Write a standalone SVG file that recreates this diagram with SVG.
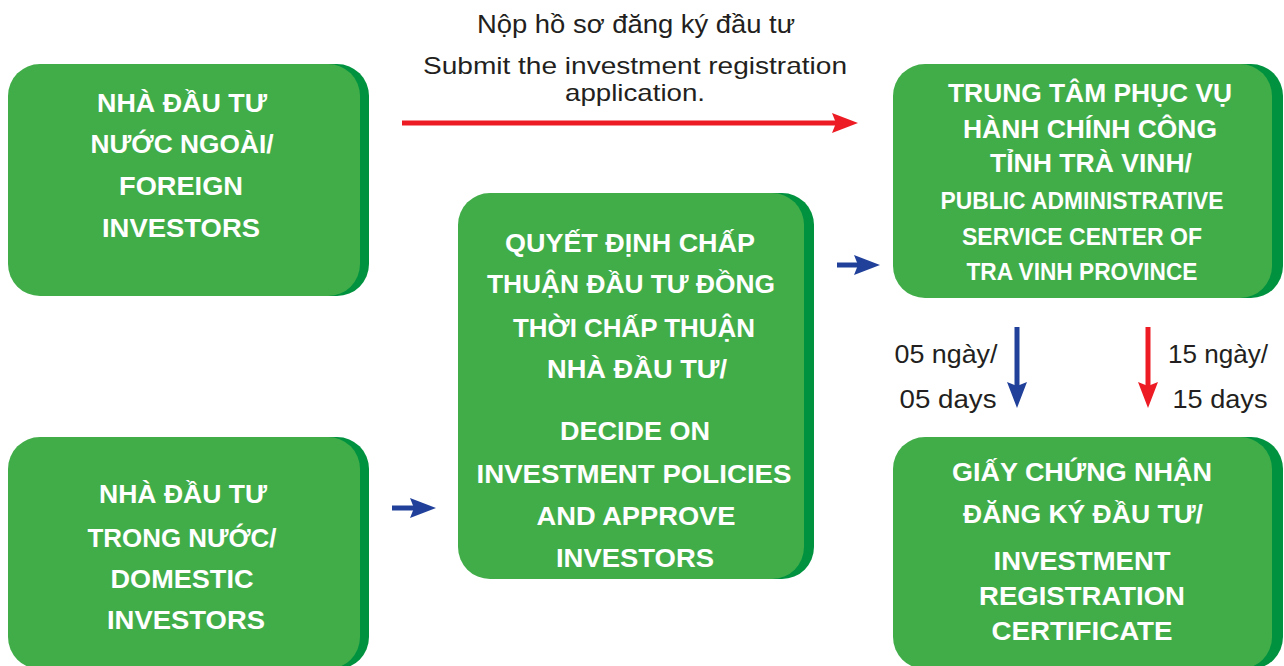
<svg xmlns="http://www.w3.org/2000/svg" width="1284" height="666" viewBox="0 0 1284 666">
<defs>
<style>
.bg{fill:#ffffff}
.sh{fill:#00923F}
.box{fill:#41AD49}
.t{font-family:"Liberation Sans",Arial,sans-serif;font-weight:bold;font-size:26px;fill:#ffffff;text-anchor:middle}
.t2{font-family:"Liberation Sans",Arial,sans-serif;font-weight:bold;font-size:24px;fill:#ffffff;text-anchor:middle}
.lab{font-family:"Liberation Sans",Arial,sans-serif;font-size:25px;fill:#231F20;text-anchor:middle}
.lab2{font-family:"Liberation Sans",Arial,sans-serif;font-size:24px;fill:#231F20;text-anchor:middle}
.red{stroke:#ED1C24;stroke-width:5;fill:none}
.blue{stroke:#21409A;stroke-width:5;fill:none}
</style>
<marker id="hr" markerUnits="userSpaceOnUse" markerWidth="26" markerHeight="20" refX="4" refY="10" orient="auto" viewBox="0 0 26 20">
<path d="M0,0 L26,10 L0,20 L4,10 z" fill="#ED1C24"/>
</marker>
<marker id="hb" markerUnits="userSpaceOnUse" markerWidth="26" markerHeight="20" refX="4" refY="10" orient="auto" viewBox="0 0 26 20">
<path d="M0,0 L26,10 L0,20 L4,10 z" fill="#21409A"/>
</marker>
</defs>
<rect class="bg" x="0" y="0" width="1284" height="666"/>

<g id="foreign">
<rect class="sh" x="18" y="64" width="351" height="232" rx="32"/>
<rect class="box" x="8" y="64" width="352" height="232" rx="32"/>
<text class="t" x="182" y="112" textLength="170" lengthAdjust="spacingAndGlyphs">NHÀ ĐẦU TƯ</text>
<text class="t" x="182" y="153" textLength="183" lengthAdjust="spacingAndGlyphs">NƯỚC NGOÀI/</text>
<text class="t" x="181" y="195" textLength="124" lengthAdjust="spacingAndGlyphs">FOREIGN</text>
<text class="t" x="181" y="237" textLength="158" lengthAdjust="spacingAndGlyphs">INVESTORS</text>
</g>

<g id="domestic">
<rect class="sh" x="18" y="437" width="351" height="232" rx="32"/>
<rect class="box" x="8" y="437" width="352" height="232" rx="32"/>
<text class="t" x="183" y="503" textLength="168" lengthAdjust="spacingAndGlyphs">NHÀ ĐẦU TƯ</text>
<text class="t" x="182" y="547" textLength="189" lengthAdjust="spacingAndGlyphs">TRONG NƯỚC/</text>
<text class="t" x="182" y="588" textLength="143" lengthAdjust="spacingAndGlyphs">DOMESTIC</text>
<text class="t" x="186" y="629" textLength="158" lengthAdjust="spacingAndGlyphs">INVESTORS</text>
</g>

<g id="decision">
<rect class="sh" x="468" y="193" width="346" height="386" rx="32"/>
<rect class="box" x="458" y="193" width="346" height="386" rx="32"/>
<text class="t" x="630" y="252" textLength="250" lengthAdjust="spacingAndGlyphs">QUYẾT ĐỊNH CHẤP</text>
<text class="t" x="631" y="293" textLength="288" lengthAdjust="spacingAndGlyphs">THUẬN ĐẦU TƯ ĐỒNG</text>
<text class="t" x="634" y="337" textLength="242" lengthAdjust="spacingAndGlyphs">THỜI CHẤP THUẬN</text>
<text class="t" x="637" y="378" textLength="180" lengthAdjust="spacingAndGlyphs">NHÀ ĐẦU TƯ/</text>
<text class="t" x="635" y="440" textLength="150" lengthAdjust="spacingAndGlyphs">DECIDE ON</text>
<text class="t" x="634" y="483" textLength="315" lengthAdjust="spacingAndGlyphs">INVESTMENT POLICIES</text>
<text class="t" x="636" y="525" textLength="199" lengthAdjust="spacingAndGlyphs">AND APPROVE</text>
<text class="t" x="635" y="567" textLength="158" lengthAdjust="spacingAndGlyphs">INVESTORS</text>
</g>

<g id="center">
<rect class="sh" x="903" y="64" width="380" height="234" rx="32"/>
<rect class="box" x="893" y="64" width="379" height="234" rx="32"/>
<text class="t" x="1090" y="102" textLength="284" lengthAdjust="spacingAndGlyphs">TRUNG TÂM PHỤC VỤ</text>
<text class="t" x="1090" y="138" textLength="254" lengthAdjust="spacingAndGlyphs">HÀNH CHÍNH CÔNG</text>
<text class="t" x="1091" y="172" textLength="202" lengthAdjust="spacingAndGlyphs">TỈNH TRÀ VINH/</text>
<text class="t2" x="1082" y="209" textLength="283" lengthAdjust="spacingAndGlyphs">PUBLIC ADMINISTRATIVE</text>
<text class="t2" x="1082" y="245" textLength="240" lengthAdjust="spacingAndGlyphs">SERVICE CENTER OF</text>
<text class="t2" x="1082" y="280" textLength="231" lengthAdjust="spacingAndGlyphs">TRA VINH PROVINCE</text>
</g>

<g id="certificate">
<rect class="sh" x="903" y="437" width="380" height="232" rx="32"/>
<rect class="box" x="893" y="437" width="379" height="232" rx="32"/>
<text class="t" x="1082" y="481" textLength="260" lengthAdjust="spacingAndGlyphs">GIẤY CHỨNG NHẬN</text>
<text class="t" x="1083" y="523" textLength="240" lengthAdjust="spacingAndGlyphs">ĐĂNG KÝ ĐẦU TƯ/</text>
<text class="t" x="1082" y="570" textLength="177" lengthAdjust="spacingAndGlyphs">INVESTMENT</text>
<text class="t" x="1082" y="605" textLength="206" lengthAdjust="spacingAndGlyphs">REGISTRATION</text>
<text class="t" x="1082" y="640" textLength="181" lengthAdjust="spacingAndGlyphs">CERTIFICATE</text>
</g>

<g id="connectors">
<line class="red" x1="402" y1="123" x2="836" y2="123" marker-end="url(#hr)"/>
<line class="blue" x1="837" y1="265" x2="858" y2="265" marker-end="url(#hb)"/>
<line class="blue" x1="392" y1="508" x2="414" y2="508" marker-end="url(#hb)"/>
<line class="blue" x1="1017" y1="327" x2="1017" y2="386" marker-end="url(#hb)"/>
<line class="red" x1="1148" y1="327" x2="1148" y2="386" marker-end="url(#hr)"/>
<text class="lab" x="636" y="33" textLength="318" lengthAdjust="spacingAndGlyphs">Nộp hồ sơ đăng ký đầu tư</text>
<text class="lab2" x="635" y="74" textLength="424" lengthAdjust="spacingAndGlyphs">Submit the investment registration</text>
<text class="lab2" x="635" y="101" textLength="140" lengthAdjust="spacingAndGlyphs">application.</text>
<text class="lab" x="946" y="363" textLength="103" lengthAdjust="spacingAndGlyphs">05 ngày/</text>
<text class="lab" x="948" y="408" textLength="97" lengthAdjust="spacingAndGlyphs">05 days</text>
<text class="lab" x="1218" y="363" textLength="100" lengthAdjust="spacingAndGlyphs">15 ngày/</text>
<text class="lab" x="1220" y="408" textLength="95" lengthAdjust="spacingAndGlyphs">15 days</text>
</g>
</svg>
